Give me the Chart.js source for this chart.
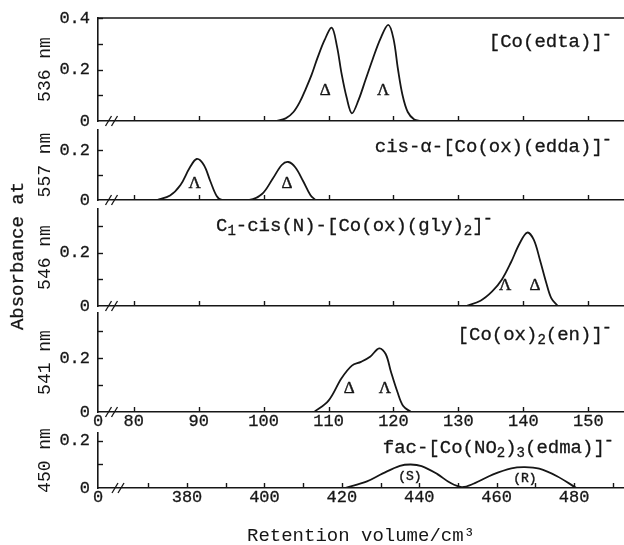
<!DOCTYPE html>
<html>
<head>
<meta charset="utf-8">
<title>Retention chromatograms</title>
<script src="https://cdn.jsdelivr.net/npm/chart.js@4.4.1/dist/chart.umd.min.js"></script>
<style>
  html, body { margin: 0; padding: 0; background: #ffffff; }
  #stage { position: relative; width: 624px; height: 545px; overflow: hidden; background: #ffffff; }
  #stage canvas { position: absolute; left: 0; top: 0; width: 624px; height: 545px; }
</style>
</head>
<body>
<div id="stage">
  <canvas id="p1" width="624" height="545"></canvas>
  <canvas id="p2" width="624" height="545"></canvas>
  <canvas id="p3" width="624" height="545"></canvas>
  <canvas id="p4" width="624" height="545"></canvas>
  <canvas id="p5" width="624" height="545"></canvas>
</div>
<script>
// ---------------- data ----------------
const volumeTicks = [80, 90, 100, 110, 120, 130, 140, 150];
const volumeLabels = [80, 90, 100, 110, 120, 130, 140, 150];
const edmaTicks = [370, 380, 390, 400, 410, 420, 430, 440, 450, 460, 470, 480, 490];
const edmaLabels = [380, 400, 420, 440, 460, 480];
const absTicks = [0, 0.1, 0.2, 0.3, 0.4];

// [Co(edta)]-  at 536 nm
const edtaVolume = [101.8, 103.4, 104.6, 105.6, 106.5, 107.4, 108.3, 109.4, 110.5, 111.3, 112.0, 112.8, 113.6, 114.6, 115.7, 116.8, 118.0, 119.2, 120.0, 120.7, 121.4, 122.2, 123.2, 124.2];
const edtaAbs    = [0, 0.01, 0.035, 0.075, 0.125, 0.18, 0.245, 0.315, 0.362, 0.29, 0.185, 0.09, 0.03, 0.08, 0.16, 0.24, 0.32, 0.373, 0.32, 0.2, 0.1, 0.035, 0.006, 0];

// cis-alpha-[Co(ox)(edda)]-  at 557 nm
const eddaVolume = [83.6, 85.6, 87.2, 88.6, 89.7, 90.8, 91.8, 92.8, 93.6, 97.8, 99.8, 101.4, 102.8, 103.8, 104.9, 106.1, 107.2, 108.0];
const eddaAbs    = [0, 0.018, 0.06, 0.128, 0.164, 0.14, 0.075, 0.015, 0, 0, 0.025, 0.085, 0.14, 0.152, 0.13, 0.075, 0.02, 0];

// C1-cis(N)-[Co(ox)(gly)2]-  at 546 nm
const glyVolume = [131.2, 133.4, 135.2, 136.7, 138.1, 139.4, 140.6, 141.6, 142.6, 143.5, 144.3, 145.3];
const glyAbs    = [0, 0.02, 0.055, 0.1, 0.165, 0.235, 0.277, 0.25, 0.17, 0.09, 0.03, 0];

// [Co(ox)2(en)]-  at 541 nm
const enVolume = [107.8, 110.0, 112.0, 113.6, 115.0, 116.4, 117.8, 118.8, 119.6, 120.6, 121.5, 122.7];
const enAbs    = [0, 0.042, 0.125, 0.172, 0.186, 0.205, 0.236, 0.215, 0.15, 0.075, 0.022, 0];

// fac-[Co(NO2)3(edma)]-  at 450 nm
const edmaVolume = [420.8, 426.5, 430.6, 435.0, 437.8, 440.6, 444.6, 448.0, 451.0, 454.0, 459.1, 463.8, 467.3, 471.0, 475.6, 480.6];
const edmaAbs    = [0, 0.028, 0.062, 0.094, 0.1, 0.093, 0.06, 0.022, 0.004, 0.018, 0.058, 0.084, 0.089, 0.082, 0.05, 0];

// ---------------- styling ----------------
const INK = '#161616';
const MONO = "'Liberation Mono', 'DejaVu Sans Mono', monospace";
const SERIF = "'Liberation Serif', 'DejaVu Serif', serif";
const STROKE = 0.3;

function drawRich(ctx, parts, x, y, align, size) {
  const main = size + 'px ' + MONO;
  const small = Math.round(size * 0.72) + 'px ' + MONO;
  const sup = Math.round(size * 0.9) + 'px ' + MONO;
  const fontOf = p => (p[1] === 'sub' ? small : (p[1] === 'sup' ? sup : main));
  let w = 0;
  parts.forEach(p => { ctx.font = fontOf(p); w += ctx.measureText(p[0]).width; });
  let cx = align === 'right' ? x - w : x;
  ctx.textAlign = 'left';
  ctx.textBaseline = 'middle';
  ctx.lineWidth = STROKE;
  parts.forEach(p => {
    ctx.font = fontOf(p);
    const dy = p[1] === 'sub' ? 5 : (p[1] === 'sup' ? -8 : 0);
    const dx = p[1] === 'sup' ? -1 : 0;
    ctx.fillText(p[0], cx + dx, y + dy);
    ctx.strokeText(p[0], cx + dx, y + dy);
    cx += ctx.measureText(p[0]).width * (p[1] === 'sup' ? 0.7 : 1);
  });
}

const deco = {
  id: 'deco',
  afterDraw(chart, args, o) {
    const ctx = chart.ctx, ca = chart.chartArea;
    const xs = chart.scales.x, ys = chart.scales.y;
    ctx.save();
    ctx.strokeStyle = INK; ctx.fillStyle = INK;
    // inward tick marks
    ctx.lineWidth = 1.4;
    xs.ticks.forEach(t => {
      if (t.value === xs.min) return;
      const p = Math.round(xs.getPixelForValue(t.value)) + 0.5;
      ctx.beginPath(); ctx.moveTo(p, ca.bottom); ctx.lineTo(p, ca.bottom - 5); ctx.stroke();
    });
    ys.ticks.forEach(t => {
      if (t.value === 0) return;
      const p = Math.round(ys.getPixelForValue(t.value)) + 0.5;
      ctx.beginPath(); ctx.moveTo(ca.left, p); ctx.lineTo(ca.left + 5, p); ctx.stroke();
    });
    // top frame line
    if (o.frameTop) {
      ctx.lineWidth = 1.6;
      ctx.beginPath(); ctx.moveTo(ca.left, ca.top); ctx.lineTo(ca.right, ca.top); ctx.stroke();
    }
    // axis break "//"
    ctx.lineWidth = 1.3;
    [0, 6].forEach(d => {
      const bx = ca.left + o.breakAt + d;
      ctx.beginPath(); ctx.moveTo(bx - 3, ca.bottom + 5); ctx.lineTo(bx + 3, ca.bottom - 5); ctx.stroke();
    });
    // peak marks
    ctx.textAlign = 'center'; ctx.textBaseline = 'middle';
    ctx.font = o.markFont;
    ctx.lineWidth = 0.4;
    o.marks.forEach(m => {
      const px = xs.getPixelForValue(m.x), py = ys.getPixelForValue(m.y);
      ctx.fillText(m.t, px, py); ctx.strokeText(m.t, px, py);
    });
    // compound label
    drawRich(ctx, o.label.parts, o.label.x, o.label.y, o.label.align, 19);
    // shared y title
    if (o.sharedTitle) {
      ctx.save();
      ctx.translate(o.sharedTitle.x, o.sharedTitle.y);
      ctx.rotate(-Math.PI / 2);
      ctx.font = '19px ' + MONO; ctx.textAlign = 'center'; ctx.textBaseline = 'middle';
      ctx.lineWidth = STROKE;
      ctx.fillText(o.sharedTitle.text, 0, 0);
      ctx.strokeText(o.sharedTitle.text, 0, 0);
      ctx.restore();
    }
    ctx.restore();
  }
};

function makeChart(p) {
  const xMin = p.xMin;
  const absList = absTicks.filter(v => v <= p.yMax + 1e-9);
  const xScale = {
    type: 'linear', position: 'bottom', min: p.xMin, max: p.xMax,
    afterBuildTicks: s => { s.ticks = [{ value: xMin }].concat(p.xTicks.map(v => ({ value: v }))); },
    afterFit: s => { s.height = p.axisH; },
    ticks: {
      display: p.xLabels.length > 0, autoSkip: false, maxRotation: 0, minRotation: 0,
      padding: 1, color: INK, font: { family: MONO, size: 17, lineHeight: 1 },
      textStrokeColor: INK, textStrokeWidth: STROKE,
      callback: v => (v === xMin ? '0' : (p.xLabels.includes(v) ? String(v) : ''))
    },
    grid: { display: true, drawOnChartArea: false, drawTicks: false },
    border: { display: true, color: INK, width: 1.6 },
    title: p.xTitle ? { display: true, text: p.xTitle, color: INK, font: { family: MONO, size: 19, lineHeight: 1 }, padding: { top: 0, bottom: 0 } } : { display: false }
  };
  const yScale = {
    type: 'linear', position: 'left', min: 0, max: p.yMax,
    afterBuildTicks: s => { s.ticks = absList.map(v => ({ value: v })); },
    afterFit: s => { s.width = 98; },
    ticks: {
      autoSkip: false, padding: 8, color: INK, font: { family: MONO, size: 17, lineHeight: 1 },
      textStrokeColor: INK, textStrokeWidth: STROKE,
      callback: v => (p.yLabels.includes(v) ? String(v) : '')
    },
    grid: { display: true, drawOnChartArea: false, drawTicks: false },
    border: { display: true, color: INK, width: 1.6 },
    title: { display: true, text: p.yTitle, color: INK, font: { family: MONO, size: 18, lineHeight: 1.2 }, padding: { top: 34, bottom: 0 } }
  };
  return new Chart(document.getElementById(p.id), {
    type: 'scatter',
    data: {
      datasets: [{
        data: p.vol.map((v, i) => ({ x: v, y: p.abs[i] })),
        showLine: true, borderColor: INK, borderWidth: 1.8, pointRadius: 0,
        fill: false, tension: 0.35
      }]
    },
    options: {
      responsive: false, animation: false, devicePixelRatio: 1, events: [],
      layout: { padding: { top: p.top, bottom: 545 - p.bottom - p.axisH, left: 0, right: 0 } },
      scales: { x: xScale, y: yScale },
      plugins: {
        legend: { display: false }, tooltip: { enabled: false }, title: { display: false },
        deco: {
          frameTop: !!p.frameTop, breakAt: p.breakAt, marks: p.marks,
          markFont: p.markFont || ('17px ' + SERIF), label: p.label, sharedTitle: p.sharedTitle
        }
      }
    },
    plugins: [deco]
  });
}

const panels = [
  { id: 'p1', vol: edtaVolume, abs: edtaAbs, top: 18, bottom: 121, axisH: 4,
    xMin: 74.5, xMax: 155.5, xTicks: volumeTicks, xLabels: [],
    yMax: 0.4, yLabels: [0, 0.2, 0.4], yTitle: '536 nm', frameTop: true, breakAt: 10.5,
    marks: [{ t: 'Δ', x: 109.5, y: 0.12 }, { t: 'Λ', x: 118.4, y: 0.12 }],
    label: { parts: [['[Co(edta)]'], ['-', 'sup']], x: 613, y: 42, align: 'right' } },
  { id: 'p2', vol: eddaVolume, abs: eddaAbs, top: 130, bottom: 200, axisH: 4,
    xMin: 74.5, xMax: 155.5, xTicks: volumeTicks, xLabels: [],
    yMax: 0.28, yLabels: [0, 0.2], yTitle: '557 nm', breakAt: 10.5,
    marks: [{ t: 'Λ', x: 89.4, y: 0.067 }, { t: 'Δ', x: 103.6, y: 0.067 }],
    label: { parts: [['cis-α-[Co(ox)(edda)]'], ['-', 'sup']], x: 613, y: 147, align: 'right' } },
  { id: 'p3', vol: glyVolume, abs: glyAbs, top: 209, bottom: 306, axisH: 4,
    xMin: 74.5, xMax: 155.5, xTicks: volumeTicks, xLabels: [],
    yMax: 0.366, yLabels: [0, 0.2], yTitle: '546 nm', breakAt: 10.5,
    marks: [{ t: 'Λ', x: 137.2, y: 0.079 }, { t: 'Δ', x: 141.8, y: 0.079 }],
    label: { parts: [['C'], ['1', 'sub'], ['-cis(N)-[Co(ox)(gly)'], ['2', 'sub'], [']'], ['-', 'sup']], x: 216, y: 226, align: 'left' },
    sharedTitle: { text: 'Absorbance at', x: 18, y: 256 } },
  { id: 'p4', vol: enVolume, abs: enAbs, top: 313, bottom: 412, axisH: 20,
    xMin: 74.5, xMax: 155.5, xTicks: volumeTicks, xLabels: volumeLabels,
    yMax: 0.367, yLabels: [0, 0.2], yTitle: '541 nm', breakAt: 10.5,
    marks: [{ t: 'Δ', x: 113.2, y: 0.088 }, { t: 'Λ', x: 118.7, y: 0.088 }],
    label: { parts: [['[Co(ox)'], ['2', 'sub'], ['(en)]'], ['-', 'sup']], x: 613, y: 335, align: 'right' } },
  { id: 'p5', vol: edmaVolume, abs: edmaAbs, top: 433, bottom: 488, axisH: 57,
    xMin: 357, xMax: 492.9, xTicks: edmaTicks, xLabels: edmaLabels,
    yMax: 0.234, yLabels: [0, 0.2], yTitle: '450 nm', breakAt: 17,
    xTitle: 'Retention volume/cm³',
    marks: [{ t: '(S)', x: 437.6, y: 0.048 }, { t: '(R)', x: 467.3, y: 0.041 }],
    markFont: '13px ' + MONO,
    label: { parts: [['fac-[Co(NO'], ['2', 'sub'], [')'], ['3', 'sub'], ['(edma)]'], ['-', 'sup']], x: 615, y: 448, align: 'right' } }
];

panels.forEach(makeChart);
</script>
</body>
</html>
